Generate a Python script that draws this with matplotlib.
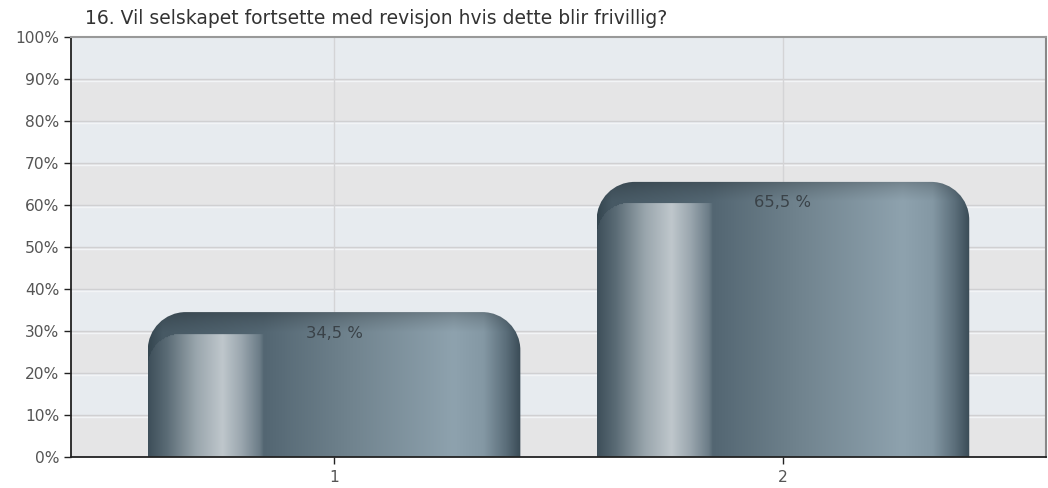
import numpy as np
import matplotlib.pyplot as plt
from matplotlib.path import Path
from matplotlib.patches import PathPatch
from matplotlib.colors import to_rgb
import matplotlib.transforms as mtransforms

plt.rcParams['font.family'] = ['DejaVu Sans']

title = '16. Vil selskapet fortsette med revisjon hvis dette blir frivillig?'
categories = ['1', '2']
values = [34.5, 65.5]
y_ticks = [0, 10, 20, 30, 40, 50, 60, 70, 80, 90, 100]

BAR_WIDTH = 0.83
CORNER_PX = 38
STEP_PX = 22
INNER_PX = 32
FACE_END = 0.31

main_stops = [(0.00, '#34454f'), (0.04, '#475964'), (0.31, '#536672'), (0.55, '#71848f'),
              (0.82, '#8ea2ae'), (0.90, '#8498a4'), (0.96, '#5b6e7a'), (1.00, '#394a55')]
face_stops = [(0.00, '#3d4e59'), (0.05, '#5a6b75'), (0.13, '#9aa6ad'), (0.20, '#bfc7cc'),
              (0.25, '#9ba7af'), (0.30, '#6b7c87'), (0.31, '#556874')]


def ramp(stops, u):
    pos = [s[0] for s in stops]
    cols = np.array([to_rgb(s[1]) for s in stops])
    return np.stack([np.interp(u, pos, cols[:, k]) for k in range(3)], axis=-1)


def rounded_top(x0, w, h, rx, ry):
    k = 0.5523
    verts = [(x0, 0), (x0, h - ry),
             (x0, h - ry + k * ry), (x0 + rx - k * rx, h), (x0 + rx, h),
             (x0 + w - rx, h),
             (x0 + w - rx + k * rx, h), (x0 + w, h - ry + k * ry), (x0 + w, h - ry),
             (x0 + w, 0), (x0, 0)]
    codes = [Path.MOVETO, Path.LINETO, Path.CURVE4, Path.CURVE4, Path.CURVE4, Path.LINETO,
             Path.CURVE4, Path.CURVE4, Path.CURVE4, Path.LINETO, Path.CLOSEPOLY]
    return Path(verts, codes)


fig = plt.figure(figsize=(10.48, 4.88), dpi=100)
ax = fig.add_axes([71 / 1048, 31 / 488, 975 / 1048, 420 / 488])
ax.set_xlim(0.414, 2.586)
ax.set_ylim(0, 100)

# banded background
for i in range(10):
    ax.axhspan(i * 10, i * 10 + 10, color='#e5e5e6' if i % 2 == 0 else '#e7ebef', zorder=0, lw=0)

px_x = ax.bbox.width / (2.586 - 0.414)
px_y = ax.bbox.height / 100.0

for t in y_ticks[1:-1]:
    ax.axhline(t, color='#d0d0d2', lw=1, zorder=1)
    off = mtransforms.ScaledTranslation(0, -1.5 / 100, fig.dpi_scale_trans)
    ax.plot([0, 1], [t, t], color='#f2f4f6', lw=1, zorder=1,
            transform=ax.get_yaxis_transform() + off)
for i in range(len(categories)):
    ax.axvline(i + 1, color='#d4d4d6', lw=1, zorder=1)

for i, val in enumerate(values):
    xc = i + 1
    x0 = xc - BAR_WIDTH / 2
    w_px = BAR_WIDTH * px_x
    h_px = val * px_y
    nx, ny = int(w_px), int(h_px)
    u = (np.arange(nx) + 0.5) / nx
    d = (np.arange(ny) + 0.5)  # depth from top in px
    U, D = np.meshgrid(u, d)
    XP = U * w_px
    img = ramp(main_stops, U)
    # left face with inner rounded corner
    face = (U < FACE_END) & (D > STEP_PX)
    corner = (XP < INNER_PX) & (D < STEP_PX + INNER_PX)
    inside = (XP - INNER_PX) ** 2 + (D - STEP_PX - INNER_PX) ** 2 <= INNER_PX ** 2
    face &= ~corner | inside
    face_img = ramp(face_stops, np.clip(U, 0, 0.31))
    img[face] = face_img[face]
    # darker rim at top
    shade = 0.78 + 0.22 * np.clip(D / 20.0, 0, 1) ** 0.7
    img = img * shade[..., None]
    clip = PathPatch(rounded_top(x0, BAR_WIDTH, val, CORNER_PX / px_x, CORNER_PX / px_y),
                     transform=ax.transData, facecolor='none', edgecolor='none')
    ax.add_patch(clip)
    im = ax.imshow(img, extent=(x0, x0 + BAR_WIDTH, 0, val), origin='upper',
                   aspect='auto', zorder=2, interpolation='bilinear')
    im.set_clip_path(clip)
    ax.text(xc, val - 5, f'{val:.1f} %'.replace('.', ','), ha='center', va='center',
            fontsize=11.8, color='#3a4248', zorder=3)

ax.set_xticks([1, 2])
ax.set_xticklabels(categories)
ax.set_yticks(y_ticks)
ax.set_yticklabels([f'{t}%' for t in y_ticks])
ax.tick_params(axis='both', direction='out', length=5, width=1, color='#222222',
               labelcolor='#555555', labelsize=11.2)
ax.tick_params(axis='x', pad=4)
for s in ['left', 'bottom']:
    ax.spines[s].set_color('#222222')
    ax.spines[s].set_linewidth(1.3)
ax.spines['top'].set_color('#999999')
ax.spines['right'].set_color('#888888')
ax.spines['top'].set_linewidth(1.5)
ax.spines['right'].set_linewidth(1.5)
for s in ax.spines.values():
    s.set_zorder(4)

fig.text(85 / 1048, 1 - 18 / 488, title, ha='left', va='center', fontsize=13.5, color='#333333')

fig.savefig('out.png', dpi=100, facecolor='white')
